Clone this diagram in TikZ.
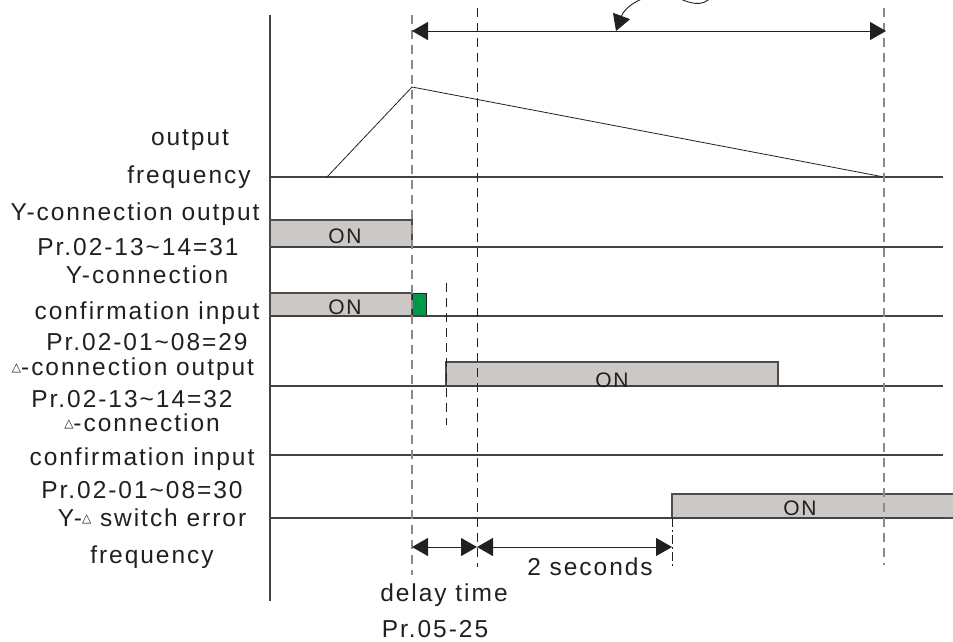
\documentclass[tikz,border=0pt]{standalone}
\usepackage{fontspec}
\setmainfont{Liberation Sans}
\newfontfamily\lblfont[LetterSpace=8]{Liberation Sans}
\newfontfamily\trifont{DejaVu Sans}
\usetikzlibrary{arrows.meta}
\definecolor{ink}{HTML}{231F20}
\definecolor{bargray}{HTML}{CCC8C5}
\definecolor{dashgray}{HTML}{8A8A8A}
\definecolor{okgreen}{HTML}{00984A}
\newcommand{\deltri}{{\trifont\fontsize{12}{12}\selectfont\raisebox{4pt}{△}}}
\tikzset{
  lbl/.style={font=\lblfont\fontsize{24.5}{27}\selectfont, text=ink, inner sep=0pt, anchor=base},
  onlbl/.style={font=\lblfont\fontsize{21}{24}\selectfont, text=ink, inner sep=0pt, anchor=base},
  baseln/.style={draw=ink!85, line width=1.1pt},
  sig/.style={draw=ink, line width=0.8pt},
  onbar/.style={fill=bargray, draw=ink!80, line width=1.1pt},
  greydash/.style={draw=dashgray, line width=1.1pt, dash pattern=on 9pt off 6pt},
  inkdash/.style={draw=ink, line width=1pt, dash pattern=on 9pt off 6pt},
  dim/.style={draw=ink, line width=1pt, {Triangle[length=16pt,width=18pt]}-{Triangle[length=16pt,width=18pt]}},
}
\begin{document}
\begin{tikzpicture}[x=1pt,y=-1pt]
\useasboundingbox (0,0) rectangle (953,641);
\clip (0,0) rectangle (953,641);

% axis
\coordinate (axT) at (270,15);
\coordinate (axB) at (270,601);
\draw[baseln] (axT) -- (axB);

% bars
\draw[onbar] (270,220) rectangle (412,247);
\draw[onbar] (270,293) rectangle (412,316);
\draw[fill=okgreen, draw=ink, line width=1pt] (412,293) rectangle (426,316);
\draw[onbar] (446,362) rectangle (778,386);
\draw[onbar] (672,494) rectangle (962,518);

% baselines
\foreach \n/\y in {fa/177, yo/247, yi/316, do/386, di/455, er/518}{
  \coordinate (\n L) at (270,\y);
  \coordinate (\n R) at (943,\y);
  \draw[baseln] (\n L) -- (\n R);
}

% frequency profile
\coordinate (fs) at (327,177);
\coordinate (fp) at (412,87);
\coordinate (fe) at (884,177);
\draw[sig] (fs) -- (fp) -- (fe);

% dashed markers
\coordinate (d1T) at (412,15);  \coordinate (d1B) at (412,575);
\coordinate (d2T) at (477,8);   \coordinate (d2B) at (477,567);
\coordinate (d3T) at (446,283); \coordinate (d3B) at (446,425);
\coordinate (d4T) at (884,8);   \coordinate (d4B) at (884,565);
\coordinate (d5T) at (672,518); \coordinate (d5B) at (672,567);
\draw[greydash] (d1T) -- (d1B);
\draw[inkdash] (d2T) -- (d2B);
\draw[inkdash] (d3T) -- (d3B);
\draw[greydash] (d4T) -- (d4B);
\draw[draw=ink, line width=1pt, dash pattern=on 9pt off 3pt on 2pt off 3pt] (d5T) -- (d5B);

% dimension arrows
\coordinate (tA) at (412,31); \coordinate (tB) at (886,31);
\draw[dim] (tA) -- (tB);
\coordinate (bA) at (412,547); \coordinate (bB) at (477,547); \coordinate (bC) at (672,547);
\draw[dim] (bA) -- (bB);
\draw[dim] (bB) -- (bC);

% curved pointer
\coordinate (cS) at (712,-4);
\coordinate (cT) at (616,31);
\draw[draw=ink, line width=0.9pt, -{Triangle[length=16pt,width=18pt]}]
  (cS) .. controls (702,9) and (688,3) .. (670,-6)
       .. controls (650,-8) and (626,4) .. (cT);

% ON labels
\node[onlbl] (on1) at (345,243) {ON};
\node[onlbl] (on2) at (345,314) {ON};
\node[onlbl] (on3) at (612,387) {ON};
\node[onlbl] (on4) at (800,515) {ON};

% left labels
\node[lbl] (t1)  at (190,145) {output};
\node[lbl] (t2)  at (189,183) {frequency};
\node[lbl] (t3)  at (135,220) {Y-connection output};
\node[lbl] (t4)  at (138,255) {Pr.02-13\char`\~14=31};
\node[lbl] (t5)  at (147,283) {Y-connection};
\node[lbl] (t6)  at (147,319) {confirmation input};
\node[lbl] (t7)  at (147,350) {Pr.02-01\char`\~08=29};
\node[lbl] (t8)  at (133,375) {\deltri-connection output};
\node[lbl] (t9)  at (132,407) {Pr.02-13\char`\~14=32};
\node[lbl] (t10) at (142,431) {\deltri-connection};
\node[lbl] (t11) at (142,465) {confirmation input};
\node[lbl] (t12) at (142,498) {Pr.02-01\char`\~08=30};
\node[lbl] (t13) at (152,526) {Y-\deltri\ switch error};
\node[lbl] (t14) at (152,563) {frequency};

% bottom labels
\node[lbl] (b1) at (590,575) {2 seconds};
\node[lbl] (b2) at (444,601) {delay time};
\node[lbl] (b3) at (435,637) {Pr.05-25};
\end{tikzpicture}
\end{document}
